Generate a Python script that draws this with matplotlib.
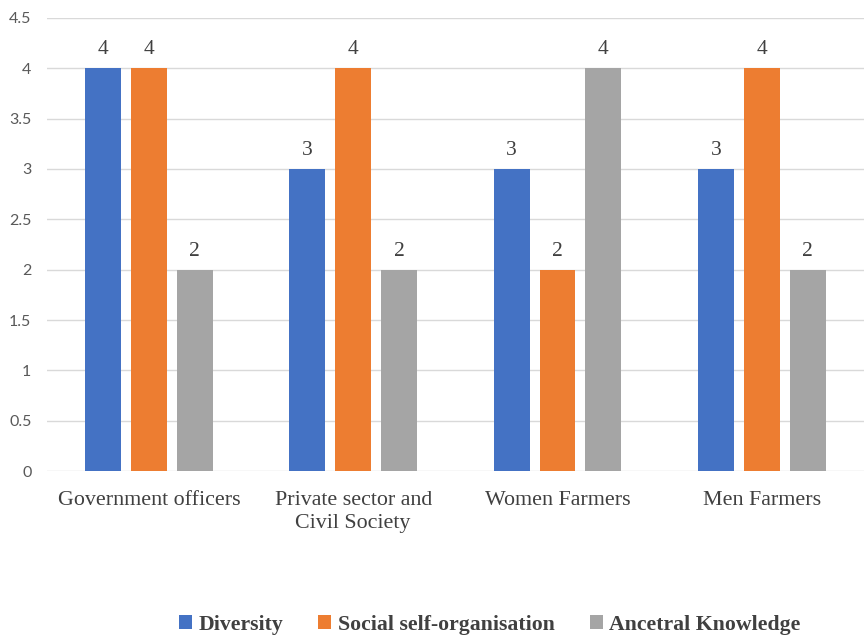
import numpy as np
import matplotlib.pyplot as plt

categories = ['Government officers', 'Private sector and\nCivil Society', 'Women Farmers', 'Men Farmers']
diversity = [4, 3, 3, 3]
social_self_org = [4, 4, 2, 4]
ancestral = [2, 2, 4, 2]
series_names = ['Diversity', 'Social self-organisation', 'Ancetral Knowledge']
colors = ['#4472C4', '#ED7D31', '#A5A5A5']

fig = plt.figure(figsize=(8.64, 6.35), dpi=100)
ax = fig.add_axes([0.054, 0.258, 0.946, 0.714])

x = np.arange(len(categories))
width = 0.176
offsets = [-0.225, 0, 0.225]

bars = []
for vals, off, col, name in zip([diversity, social_self_org, ancestral], offsets, colors, series_names):
    b = ax.bar(x + off, vals, width, color=col, label=name, zorder=3)
    bars.append(b)
    for rect, v in zip(b, vals):
        ax.text(rect.get_x() + rect.get_width() / 2, v + 0.09, str(v),
                ha='center', va='bottom', fontsize=15.5, color='#404040',
                family='Liberation Serif')

ax.set_xlim(-0.5, 3.5)
ax.set_ylim(0, 4.5)
ax.set_yticks(np.arange(0, 4.51, 0.5))
ax.set_yticklabels(['0', '0.5', '1', '1.5', '2', '2.5', '3', '3.5', '4', '4.5'])
ax.yaxis.grid(True, color='#d9d9d9', linewidth=1, zorder=0)
ax.set_axisbelow(True)
for s in ax.spines.values():
    s.set_visible(False)
ax.tick_params(axis='both', length=0)
ax.tick_params(axis='y', labelsize=11.5, labelcolor='#595959', pad=11)
for lab in ax.get_yticklabels():
    lab.set_family('Lato')

ax.set_xticks(x)
ax.set_xticklabels(categories, fontsize=15.8, color='#404040', family='Liberation Serif',
                   linespacing=1.3)
ax.tick_params(axis='x', pad=14)

leg = fig.legend(handles=bars, labels=series_names, loc='center', bbox_to_anchor=(0.567, 0.016),
                 ncol=3, frameon=False, handlelength=0.6, handleheight=0.6,
                 handletextpad=0.3, columnspacing=1.6,
                 prop={'family': 'Liberation Serif', 'weight': 'bold', 'size': 15.7})
for t in leg.get_texts():
    t.set_color('#404040')

fig.savefig('out.png', dpi=100)
